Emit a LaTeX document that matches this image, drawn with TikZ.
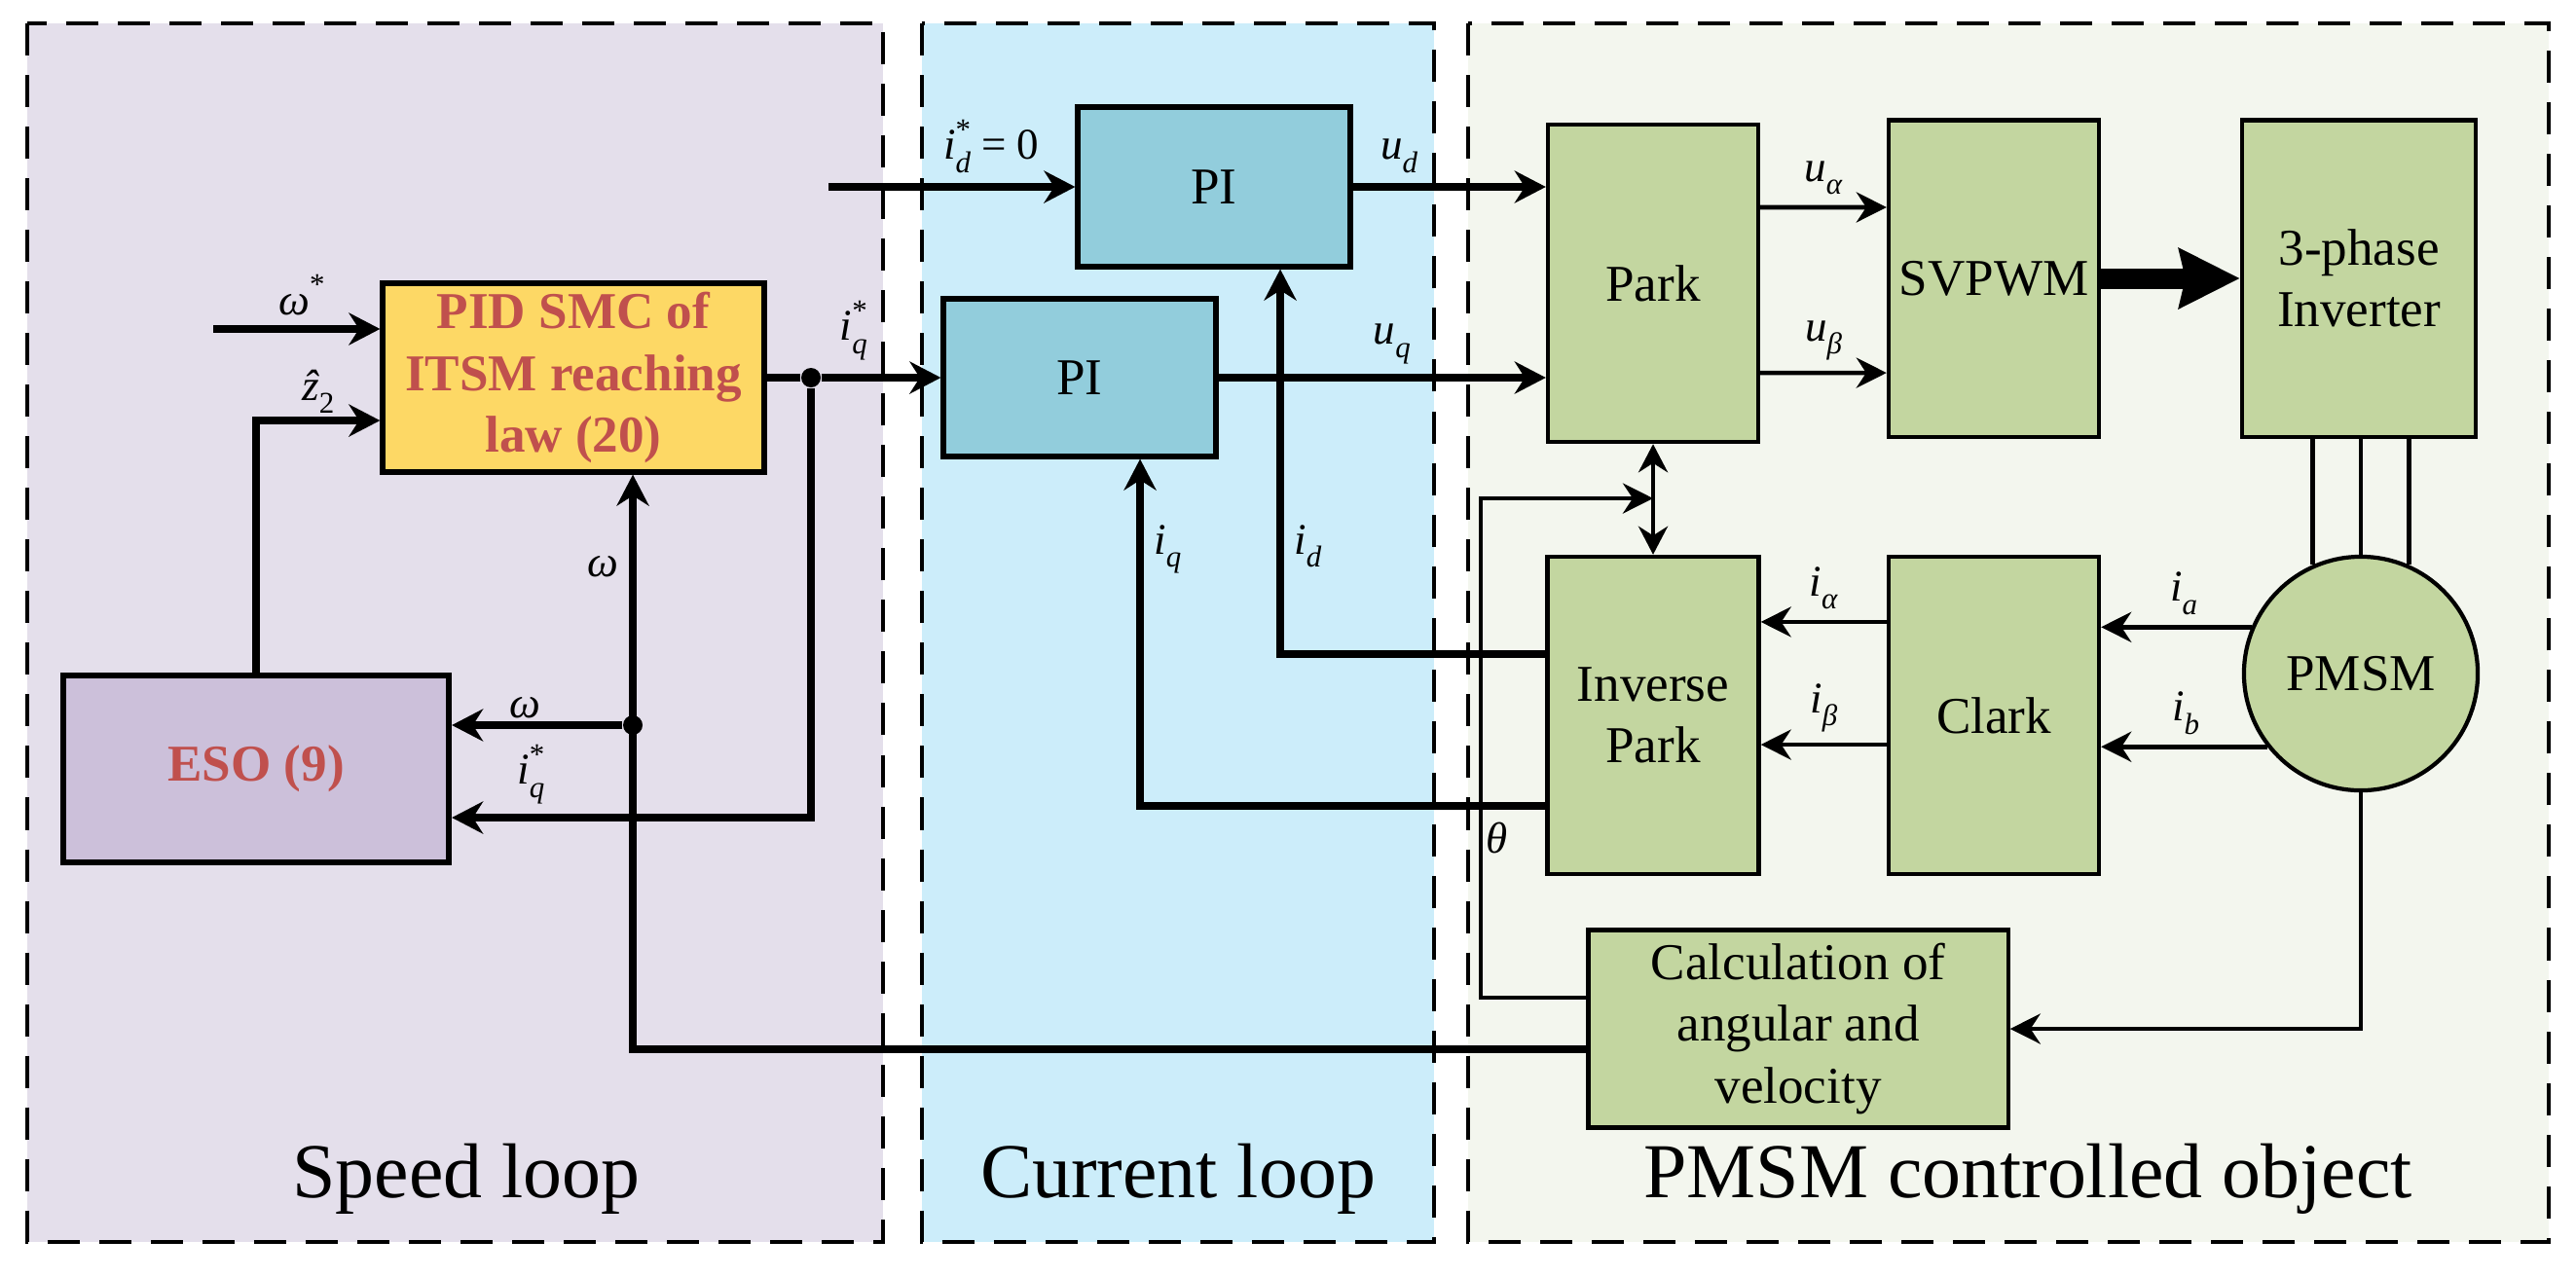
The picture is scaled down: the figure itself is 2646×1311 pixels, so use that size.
\documentclass[tikz,border=0pt]{standalone}
\usepackage{fontspec}
\setmainfont{Liberation Serif}
\usetikzlibrary{arrows.meta,positioning}

\definecolor{speedbg}{RGB}{228,223,235}
\definecolor{currbg}{RGB}{204,237,250}
\definecolor{plantbg}{RGB}{243,246,238}
\definecolor{esofill}{RGB}{204,192,218}
\definecolor{smcfill}{RGB}{253,216,101}
\definecolor{pifill}{RGB}{146,205,220}
\definecolor{greenfill}{RGB}{195,214,160}
\definecolor{redtext}{RGB}{192,80,77}

\newcommand{\boxfont}{\fontsize{15.1}{18}\selectfont}
\newcommand{\lblfont}{\fontsize{12.8}{15}\selectfont}
\newcommand{\zonefont}{\fontsize{22.7}{27}\selectfont}
\newcommand{\idxfont}{\fontsize{8.8}{9}\selectfont}
\newcommand{\lbsub}[2]{\textit{#1}\raisebox{-0.3em}{\idxfont\textit{#2}}}
\newcommand{\lbstar}[2]{\textit{#1}\rlap{\raisebox{0.45em}{\idxfont *}}\raisebox{-0.3em}{\idxfont\textit{#2}}}

\begin{document}
\begin{tikzpicture}[x=0.01cm,y=-0.01cm,
		zone/.style={draw,line width=1.25pt,dash pattern=on 0.33cm off 0.2cm},
		ctrl/.style={draw,line width=1.7pt,inner sep=0pt,font=\boxfont,align=center},
		gbox/.style={draw,line width=1.2pt,fill=greenfill,inner sep=0pt,font=\boxfont,align=center},
		sig/.style={line width=2.2pt,-{Stealth[length=0.32cm,width=0.33cm]}},
		wire/.style={line width=1.3pt,-{Stealth[length=0.31cm,width=0.31cm]}},
		jdot/.style={circle,fill=black,inner sep=0pt,minimum size=0.2cm},
		lbl/.style={font=\lblfont,inner sep=1pt}]
	\useasboundingbox (0,0) rectangle (2646,1311);

	% loops
	\draw[zone,fill=speedbg] (28,24) rectangle (907,1276);
	\draw[zone,fill=currbg] (947,24) rectangle (1473,1276);
	\draw[zone,fill=plantbg] (1508,24) rectangle (2618,1276);
	\node[font=\zonefont,anchor=base] (speedlbl) at (479,1230) {Speed loop};
	\node[font=\zonefont,anchor=base] (currlbl) at (1210,1230) {Current loop};
	\node[font=\zonefont,anchor=base] (plantlbl) at (2083,1230) {PMSM controlled object};

	% speed loop blocks
	\node[ctrl,fill=smcfill,text=redtext,font={\boxfont\bfseries},minimum width=3.91cm,minimum height=1.93cm] (smc) at (589,388) {PID SMC of\\ITSM reaching\\law (20)};
	\node[ctrl,fill=esofill,text=redtext,font={\boxfont\bfseries},minimum width=3.96cm,minimum height=1.92cm] (eso) at (263,790) {ESO (9)};

	% current loop blocks
	\node[ctrl,fill=pifill,minimum width=2.79cm,minimum height=1.63cm] (pid) at (1247,192) {PI};
	\node[ctrl,fill=pifill,minimum width=2.79cm,minimum height=1.61cm] (piq) at (1109,388) {PI};

	% plant blocks
	\node[gbox,minimum width=2.16cm,minimum height=3.26cm] (park) at (1698,291) {Park};
	\node[gbox,minimum width=2.16cm,minimum height=3.25cm] (svpwm) at (2048,286) {SVPWM};
	\node[gbox,minimum width=2.40cm,minimum height=3.25cm] (inv) at (2423,286) {3-phase\\Inverter};
	\node[gbox,minimum width=2.17cm,minimum height=3.26cm] (ipark) at (1698,735) {Inverse\\Park};
	\node[gbox,minimum width=2.16cm,minimum height=3.26cm] (clark) at (2048,735) {Clark};
	\node[gbox,circle,minimum size=2.40cm] (pm) at (2425,692) {PMSM};
	\node[gbox,minimum width=4.31cm,minimum height=2.03cm] (calc) at (1847,1057) {Calculation of\\angular and\\velocity};

	% junctions and free ends
	\node[jdot] (iqs) at (833,388) {};
	\node[jdot] (wsp) at (650,745) {};
	\coordinate (wref) at ([shift={(-1.71cm,0.5cm)}]smc.west);
	\coordinate (idref) at (851,192);
	\coordinate (thc) at (1521,512);
	\coordinate (thj) at (1698,512);

	% speed loop signals
	\draw[sig] (wref) -- node[lbl,above=2pt,pos=0.53] {\textit{ω}\raisebox{0.45em}{\idxfont *}} ([yshift=0.5cm]smc.west);
	\draw[sig] (eso.north) |- node[lbl,above,pos=0.75] {\textit{\^{z}}\raisebox{-0.3em}{\idxfont 2}} ([yshift=-0.44cm]smc.west);
	\draw[sig] (smc.east) -- (iqs) -- node[lbl,above=3pt,pos=0.27] {\lbstar{i}{q}} (piq.west);
	\draw[sig] (iqs) |- node[lbl,above=2pt,pos=0.89] {\lbstar{i}{q}} ([yshift=-0.5cm]eso.east);
	\draw[sig] ([yshift=-0.21cm]calc.west) -| node[lbl,left=2pt,pos=0.92] {\textit{ω}} ([xshift=0.61cm]smc.south);
	\draw[sig] (wsp) -- node[lbl,above,pos=0.57] {\textit{ω}} (eso.east |- wsp);

	% current loop signals
	\draw[sig] (idref) -- node[lbl,above=2pt,pos=0.66] {\lbstar{i}{d} = 0} (pid.west);
	\draw[sig] (pid.east) -- node[lbl,above=2pt,pos=0.24] {\lbsub{u}{d}} (pid.east -| park.west);
	\draw[sig] (piq.east) -- node[lbl,above=2pt,pos=0.53] {\lbsub{u}{q}} (piq.east -| park.west);
	\draw[sig] ([yshift=0.63cm]ipark.west) -| node[lbl,right=2pt,pos=0.64] {\lbsub{i}{d}} ([xshift=0.68cm]pid.south);
	\draw[sig] ([yshift=-0.93cm]ipark.west) -| node[lbl,right=2pt,pos=0.87] {\lbsub{i}{q}} ([xshift=0.62cm]piq.south);

	% plant signals
	\draw[wire] ([yshift=0.78cm]park.east) -- node[lbl,above=2pt] {\lbsub{u}{α}} ([yshift=0.73cm]svpwm.west);
	\draw[wire] ([yshift=-0.92cm]park.east) -- node[lbl,above=2pt] {\lbsub{u}{β}} ([yshift=-0.97cm]svpwm.west);
	\draw[line width=0.21cm,-{Stealth[length=0.62cm,width=0.6cm,inset=0.06cm]}] (svpwm.east) -- (inv.west);
	\foreach \a in {114,90,66}
		\draw[line width=1.3pt] (pm.\a |- inv.south) -- (pm.\a);
	\draw[wire] (pm.157) -- node[lbl,above=2pt,pos=0.45] {\lbsub{i}{a}} (pm.157 -| clark.east);
	\draw[wire] (pm.218) -- node[lbl,above=2pt,pos=0.49] {\lbsub{i}{b}} (pm.218 -| clark.east);
	\draw[wire] ([yshift=0.96cm]clark.west) -- node[lbl,above=2pt] {\lbsub{i}{α}} ([yshift=0.96cm]ipark.east);
	\draw[wire] ([yshift=-0.30cm]clark.west) -- node[lbl,above=2pt] {\lbsub{i}{β}} ([yshift=-0.30cm]ipark.east);
	\draw[line width=1.3pt,{Stealth[length=0.29cm,width=0.3cm]}-{Stealth[length=0.29cm,width=0.3cm]}] (park.south) -- (ipark.north);
	\draw[wire] ([yshift=0.32cm]calc.west) -| node[lbl,right,pos=0.66] {\textit{θ}} (thc) -- (thj);
	\draw[wire] (pm.south) |- (calc.east);
\end{tikzpicture}
\end{document}
